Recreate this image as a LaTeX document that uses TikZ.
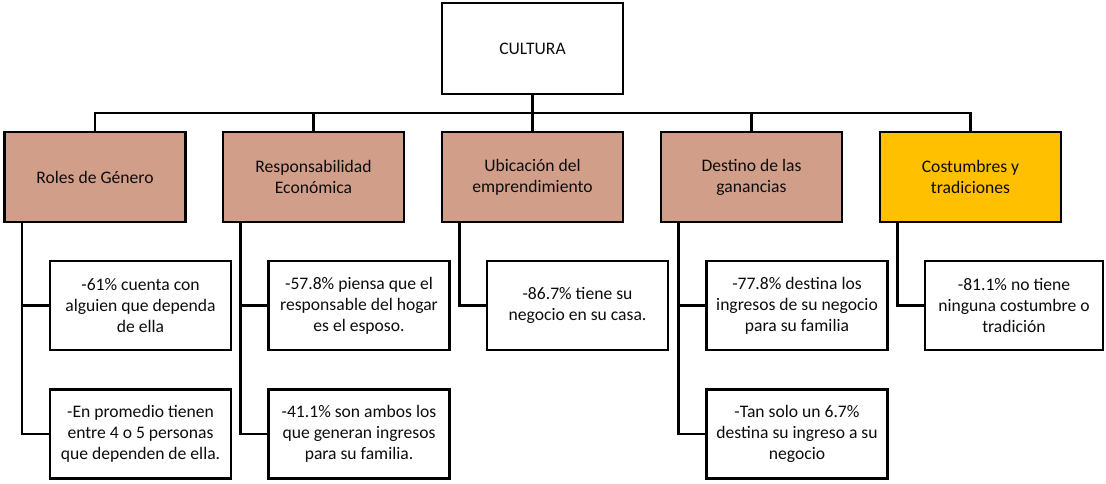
\documentclass[tikz,border=0pt]{standalone}
\usepackage{fontspec}
\setmainfont{Carlito}
\definecolor{boxbrown}{RGB}{209,158,138}
\definecolor{boxgold}{RGB}{255,192,0}
\begin{document}
\begin{tikzpicture}[x=1pt,y=-1pt,
  every node/.style={font=\fontsize{17.6}{21}\selectfont, text=black!95},
  box/.style={draw=black, line width=2.1pt, rectangle, inner sep=0pt, align=center},
  topbox/.style={box, fill=white, minimum width=181pt, minimum height=91pt},
  catbox/.style={box, fill=boxbrown, minimum width=181pt, minimum height=90pt},
  goldbox/.style={catbox, fill=boxgold},
  itembox/.style={box, fill=white, minimum width=181pt, minimum height=89pt},
  conn/.style={draw=black, line width=2.1pt}]
\useasboundingbox (0,0) rectangle (1106,483);
\node[topbox] (cultura) at (532.5,48.5) {CULTURA};
\node[catbox] (r1) at (95,177) {Roles de Género};
\node[catbox] (r2) at (313.5,177) {Responsabilidad\\Económica};
\node[catbox] (r3) at (532.5,177) {Ubicación del\\emprendimiento};
\node[catbox] (r4) at (751.5,177) {Destino de las\\ganancias};
\node[goldbox] (r5) at (970.5,177) {Costumbres y\\tradiciones};
\coordinate (bus) at (0,113);
\draw[conn] (cultura.south) -- (cultura.south |- bus);
\draw[conn] (r1.north) -- (r1.north |- bus) -- (r5.north |- bus) -- (r5.north);
\foreach \n in {r2,r3,r4}{\draw[conn] (\n.north) -- (\n.north |- bus);}
\node[itembox] (c11) at (140.5,305.5) {-61\% cuenta con\\alguien que dependa\\de ella};
\node[itembox] (c12) at (140.5,434) {-En promedio tienen\\entre 4 o 5 personas\\que dependen de ella.};
\node[itembox] (c21) at (359,305.5) {-57.8\% piensa que el\\responsable del hogar\\es el esposo.};
\node[itembox] (c22) at (359,434) {-41.1\% son ambos los\\que generan ingresos\\para su familia.};
\node[itembox] (c31) at (577.5,305.5) {-86.7\% tiene su\\negocio en su casa.};
\node[itembox] (c41) at (797,305.5) {-77.8\% destina los\\ingresos de su negocio\\para su familia};
\node[itembox] (c42) at (797,434) {-Tan solo un 6.7\%\\destina su ingreso a su\\negocio};
\node[itembox, minimum width=178pt] (c51) at (1014,305.5) {-81.1\% no tiene\\ninguna costumbre o\\tradición};
\draw[conn] ([xshift=18.5pt]r1.south west) |- (c11.west);
\draw[conn] ([xshift=18.5pt]r1.south west) |- (c12.west);
\draw[conn] ([xshift=18.5pt]r2.south west) |- (c21.west);
\draw[conn] ([xshift=18.5pt]r2.south west) |- (c22.west);
\draw[conn] ([xshift=18.5pt]r3.south west) |- (c31.west);
\draw[conn] ([xshift=18.5pt]r4.south west) |- (c41.west);
\draw[conn] ([xshift=18.5pt]r4.south west) |- (c42.west);
\draw[conn] ([xshift=18.5pt]r5.south west) |- (c51.west);
\end{tikzpicture}
\end{document}
